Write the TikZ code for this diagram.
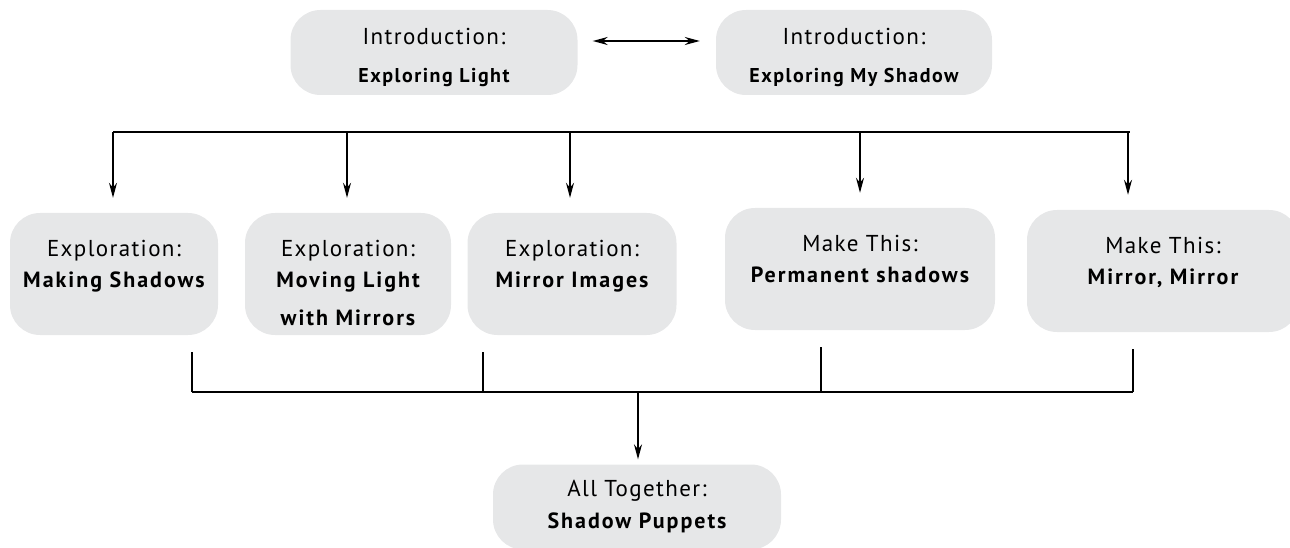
\documentclass[tikz,border=0pt]{standalone}
\usepackage{fontspec}
\usepackage{xcolor}
\setmainfont{PT Sans}
\newfontfamily\kindface[LetterSpace=6]{PT Sans}
\newfontfamily\titleface[LetterSpace=9]{PT Sans}
\newfontfamily\introface[LetterSpace=7.5]{PT Sans}
\usetikzlibrary{arrows.meta,positioning}
\definecolor{cardgray}{RGB}{230,231,232}
\newcommand{\kindfont}{\kindface\fontsize{23}{30}\selectfont}
\newcommand{\titlefont}{\titleface\bfseries\fontsize{22}{31}\selectfont}
\newcommand{\introtitlefont}{\introface\bfseries\fontsize{20}{30}\selectfont}
\newcommand{\introtext}[2]{\rule{0pt}{26pt}#1\\[8pt]{\introtitlefont #2}}
\newcommand{\cardtext}[3]{\parbox[c][122pt][t]{#1}{\centering\setlength{\baselineskip}{31pt}\vspace*{27pt}{\kindfont #2}\\{\titlefont #3}}}

\begin{document}
\begin{tikzpicture}[
  x=1pt, y=-1pt,
  card/.style={fill=cardgray, rounded corners=30pt, align=center, inner sep=0pt},
  introcard/.style={card, minimum height=85pt, font=\kindfont},
  midcard/.style={card, minimum height=122pt},
  link/.style={line width=1.4pt},
  bus/.style={line width=2.6pt},
  >={Stealth[length=15pt,width=8pt]}
]
  \clip[use as bounding box] (0,0) rectangle (1290,548);

  % introductions
  \node[introcard, minimum width=287pt] (light) at (434,52.5) {\introtext{Introduction:}{Exploring Light}};
  \node[introcard, minimum width=276pt] (myshadow) at (854,52.5) {\introtext{Introduction:}{Exploring My Shadow}};
  \draw[<->, line width=1.8pt, shorten <=15pt, shorten >=16pt] ([yshift=11.5pt]light.east) -- ([yshift=11.5pt]myshadow.west);

  % activities
  \node[midcard, minimum width=208pt] (making) at (114,274) {\cardtext{200pt}{Exploration:}{Making Shadows}};
  \node[midcard, minimum width=206pt] (moving) at (348,274) {\cardtext{200pt}{Exploration:}{Moving Light\\[7pt]with Mirrors}};
  \node[midcard, minimum width=209pt] (images) at (572,274) {\cardtext{200pt}{Exploration:}{Mirror Images}};
  \node[midcard, minimum width=270pt] (permanent) at (860,269) {\cardtext{260pt}{Make This:}{Permanent shadows}};
  \node[midcard, minimum width=272pt] (mirror) at (1163,271) {\cardtext{260pt}{Make This:}{Mirror, Mirror}};

  \coordinate (splitL) at (113,132);
  \coordinate (splitR) at (1130,132);
  \draw[bus] (splitL) -- (splitR);
  \foreach \n/\x in {making/113, moving/347, images/570, permanent/860, mirror/1128}
    \draw[->, link, shorten >=15pt] (\x,132) coordinate (drop-\n) -- (drop-\n |- \n.north);

  % all together
  \node[introcard, minimum width=288pt] (puppets) at (637,507) {All Together:\\[2pt]{\titlefont Shadow Puppets}};

  \coordinate (joinL) at (192,392);
  \coordinate (joinR) at (1133,392);
  \coordinate (joinM) at (638,392);
  \draw[line width=2pt] (joinL) -- (joinR);
  \foreach \n/\dx in {making/78, images/-89, permanent/-39, mirror/-30}
    \draw[link, shorten <=17pt] ([xshift=\dx pt]\n.south) -- ([xshift=\dx pt]\n.south |- joinL);
  \draw[->, link, shorten >=5pt] (joinM) -- (joinM |- puppets.north);
\end{tikzpicture}
\end{document}
